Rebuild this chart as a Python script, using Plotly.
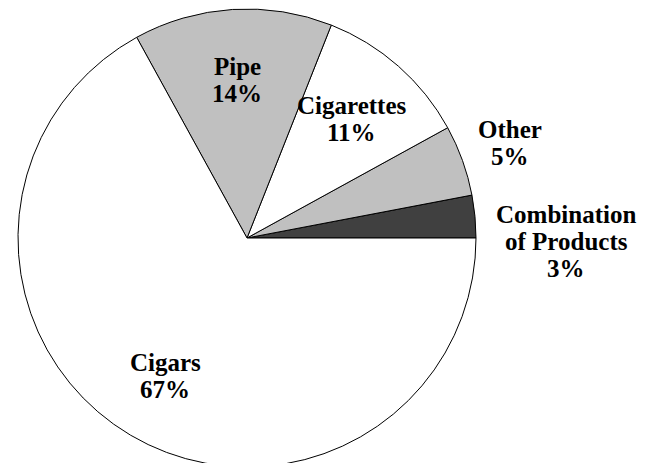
import math
import plotly.graph_objects as go

# Share of users by product (percent), listed counter-clockwise from 3 o'clock
categories = ["Combination of Products", "Other", "Cigarettes", "Pipe", "Cigars"]
shares = [3, 5, 11, 14, 67]
label_lines = [["Combination", "of Products"], ["Other"], ["Cigarettes"], ["Pipe"], ["Cigars"]]

slice_colors = ["#404040", "#C0C0C0", "#FFFFFF", "#C0C0C0", "#FFFFFF"]

# Canvas and pie geometry (pixels)
W, H = 652, 467
CX, CY, R = 247, 238, 229

# Label placement: distance from centre as a fraction of the radius, extra downward shift
label_radius = [1.40, 1.22, 0.69, 0.69, 0.70]
label_yshift = [34, 0, 0, 0, 0]
LINE_GAP = 27
FONT = dict(family="Liberation Serif, Times New Roman, serif", size=25, color="black", weight="bold")

total = sum(shares)
# Plotly lays the first counter-clockwise slice ending at the rotation angle,
# so rotate back by its sweep to have it start at 3 o'clock.
first_sweep = shares[0] / total * 360.0

fig = go.Figure(
    go.Pie(
        labels=categories,
        values=shares,
        sort=False,
        direction="counterclockwise",
        rotation=90 - first_sweep,
        marker=dict(colors=slice_colors, line=dict(color="black", width=1)),
        textinfo="none",
        hoverinfo="label+percent",
        showlegend=False,
        domain=dict(x=[(CX - R) / W, (CX + R) / W], y=[1 - (CY + R) / H, 1 - (CY - R) / H]),
    )
)

annotations = []
start = 0.0
for name_lines, val, k, dy in zip(label_lines, shares, label_radius, label_yshift):
    span = val / total * 360.0
    mid = math.radians(start + span / 2)
    start += span
    lx = CX + k * R * math.cos(mid)
    ly = CY - k * R * math.sin(mid) + dy
    lines = name_lines + [f"{round(val / total * 100)}%"]
    n = len(lines)
    for i, txt in enumerate(lines):
        py = ly + (i - (n - 1) / 2) * LINE_GAP
        annotations.append(
            dict(
                x=lx / W,
                y=1 - py / H,
                xref="paper",
                yref="paper",
                text=txt,
                showarrow=False,
                xanchor="center",
                yanchor="middle",
                font=FONT,
            )
        )

fig.update_layout(
    width=W,
    height=H,
    margin=dict(l=0, r=0, t=0, b=0),
    paper_bgcolor="white",
    plot_bgcolor="white",
    annotations=annotations,
)

fig.write_html(
    "out.html",
    post_script="document.documentElement.style.overflow='hidden';document.body.style.overflow='hidden';",
)
